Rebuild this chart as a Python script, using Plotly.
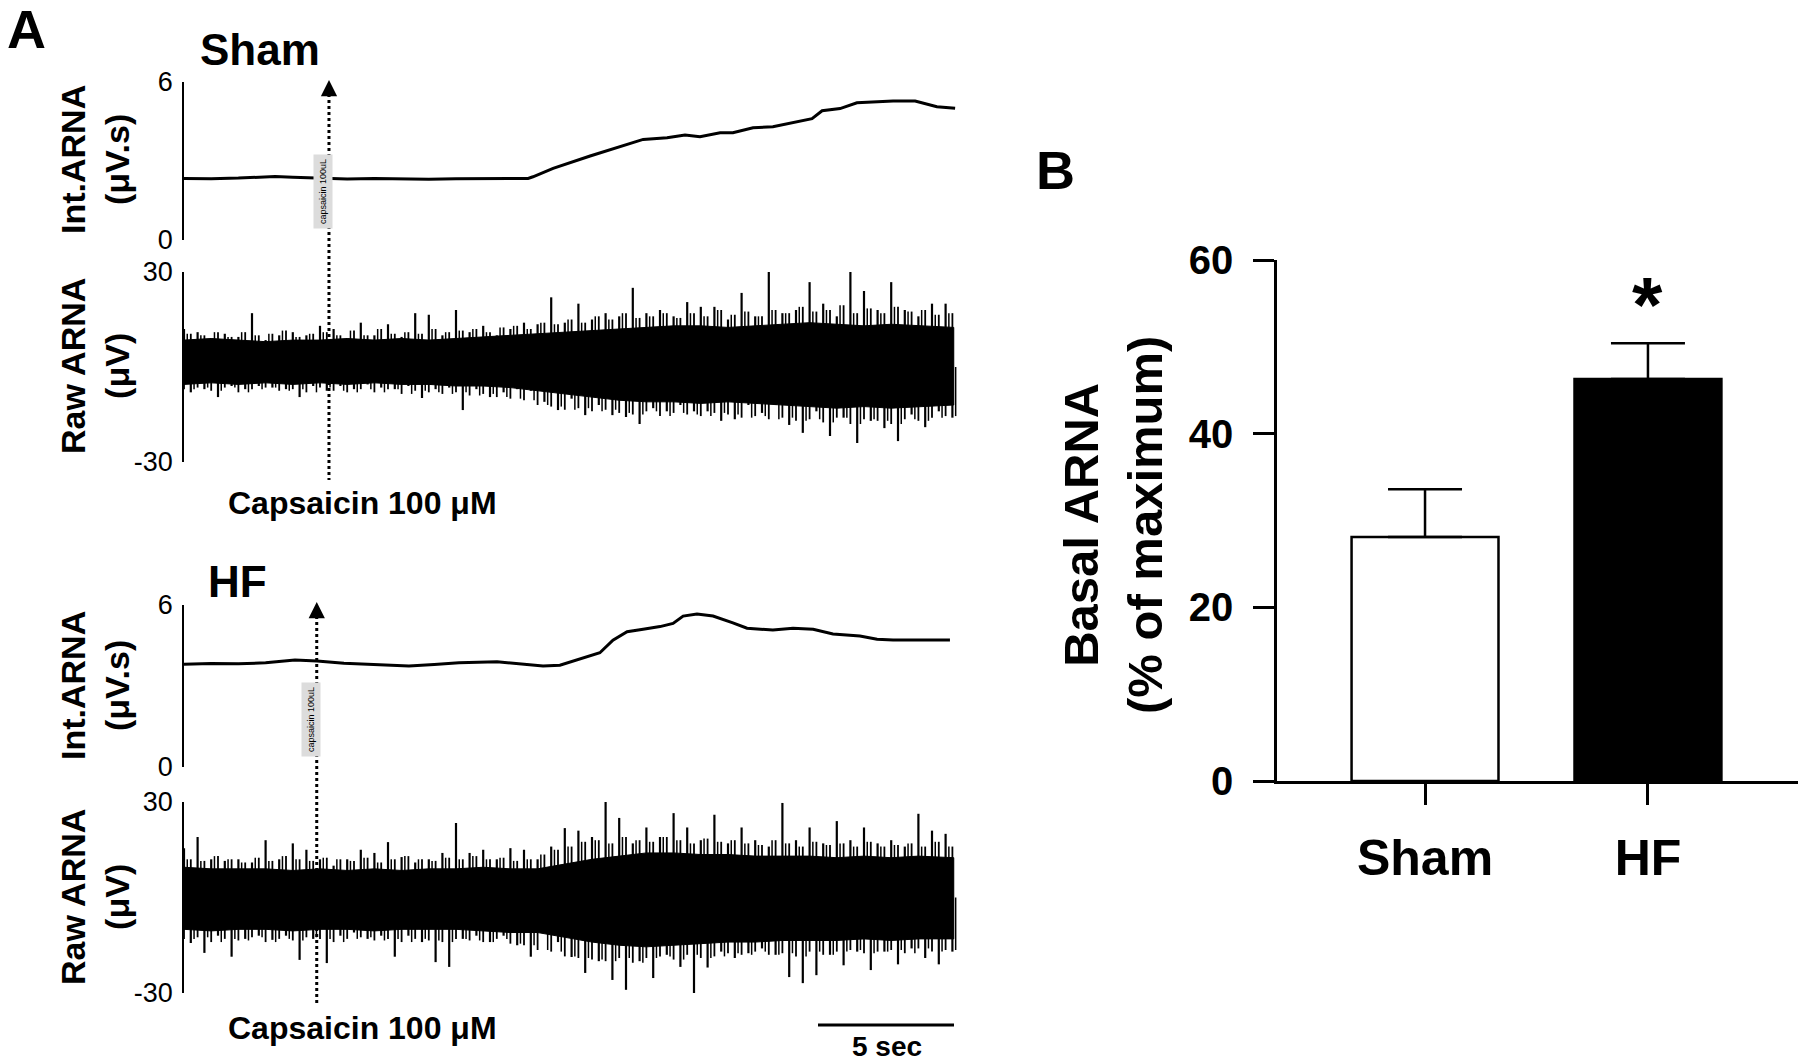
import plotly.graph_objects as go

W, H = 1804, 1061
FONT = "Liberation Sans, Arial, Helvetica, sans-serif"

# ---------------- Panel A : integrated ARNA (µV.s) ----------------
sham_int_t = [0, 1, 2, 3, 3.35, 4, 5, 5.33, 6, 7, 8, 9, 10, 11, 11.62, 12.65, 12.83, 13.57,
              14.93, 16.03, 16.88, 17.76, 18.42, 18.97, 19.71, 20.18, 20.92, 21.65, 22.39,
              23.09, 23.46, 24.12, 24.74, 25.4, 26.07, 26.88, 27.68, 28.35]
sham_int_v = [2.34, 2.33, 2.35, 2.38, 2.41, 2.38, 2.34, 2.35, 2.32, 2.34, 2.33, 2.31, 2.33, 2.34,
              2.33, 2.34, 2.40, 2.72, 3.19, 3.54, 3.82, 3.88, 3.99, 3.92, 4.07, 4.07, 4.26, 4.30,
              4.45, 4.61, 4.91, 4.99, 5.21, 5.25, 5.28, 5.28, 5.06, 5.00]

hf_int_t = [0, 1, 2, 3, 4.08, 4.89, 5.88, 7, 8.27, 9.2, 10.11, 11.51, 12.3, 13.2, 13.82, 14.56,
            15.29, 15.77, 16.29, 16.88, 17.5, 17.98, 18.35, 18.86, 19.45, 20.18, 20.7, 21.65,
            22.39, 23.13, 23.86, 24.85, 25.48, 26.07, 26.95, 28.16]
hf_int_v = [3.81, 3.83, 3.82, 3.86, 3.96, 3.93, 3.84, 3.80, 3.74, 3.80, 3.86, 3.90, 3.82, 3.74,
            3.77, 3.99, 4.23, 4.70, 5.01, 5.10, 5.20, 5.32, 5.59, 5.67, 5.59, 5.34, 5.14, 5.07,
            5.14, 5.10, 4.93, 4.85, 4.73, 4.70, 4.70, 4.70]

# ---------------- Panel A : raw ARNA (µV) ----------------
# dense core of the raw signal, read every second
raw_core_t = [0, 1, 2, 3, 4, 5, 6, 7, 8, 9, 10, 11, 12, 13, 14, 15, 16, 17, 18, 19, 20,
              21, 22, 23, 24, 25, 26, 27, 28.3]
sham_core_up = [8.5, 9, 8.5, 8, 8.5, 8.5, 9, 8.5, 9, 8.5, 9, 9.5, 10, 10.5, 11, 11.5, 12, 12.5,
                13, 13, 12.5, 13, 13.5, 14, 13.5, 13, 13.5, 13, 12.5]
sham_core_lo = [-5.5, -5, -5.5, -5, -5.5, -5, -5.5, -5, -5.5, -5.5, -6, -6, -6.5, -7.5, -8.5,
                -9.5, -10.5, -11, -11, -11.5, -11, -11.5, -12, -12.5, -13, -12.5, -13, -12.5, -12]
hf_core_up = [9.5, 9, 9, 9, 8.5, 9, 8.5, 9, 8.5, 9, 9, 9.5, 9, 9, 10.5, 12, 13, 14, 14, 13.5,
              13.5, 13, 13, 13, 12.5, 13, 12.5, 13, 12.5]
hf_core_lo = [-10, -10.5, -10, -10, -10.5, -10, -10, -10.5, -10, -10, -10, -10.5, -11, -11, -12.5,
              -14, -15, -15.5, -15, -14.5, -14, -14, -13.5, -13.5, -13.5, -13, -13.5, -13, -13]

# large spike peaks, read every half second
spike_t = [0, 0.5, 1, 1.5, 2, 2.5, 3, 3.5, 4, 4.5, 5, 5.5, 6, 6.5, 7, 7.5, 8, 8.5, 9, 9.5,
           10, 10.5, 11, 11.5, 12, 12.5, 13, 13.5, 14, 14.5, 15, 15.5, 16, 16.5, 17, 17.5,
           18, 18.5, 19, 19.5, 20, 20.5, 21, 21.5, 22, 22.5, 23, 23.5, 24, 24.5, 25, 25.5,
           26, 26.5, 27, 27.5, 28]
sham_spike_up = [12, 11, 9, 10.5, 9.5, 17, 8.5, 10, 11, 10,
                 13, 12, 9, 14, 10, 13.5, 9.5, 17, 16.5, 10,
                 18, 11, 13, 10, 12, 14, 13.5, 22, 14, 20,
                 15, 17, 16, 25, 17, 18, 16, 20.5, 19, 19,
                 15, 23.4, 16, 30, 17, 18, 26.8, 20, 16, 30,
                 24, 18, 26.8, 18, 16, 20, 20]
sham_spike_lo = [-8, -7, -9.5, -6, -7, -6, -6.5, -7, -9.5, -6,
                 -7.5, -6, -7, -5.5, -6.5, -7, -6, -9.8, -7, -6.5,
                 -13.6, -7, -9.5, -8, -7, -7.5, -11, -13.6, -10, -15.2,
                 -12, -15.2, -15.8, -18, -13, -14, -12, -14, -14, -17,
                 -16.5, -12, -14.5, -12, -18.3, -20.8, -14, -21.8, -16, -24,
                 -17, -19.3, -23.4, -15, -19, -14, -16]
hf_spike_up = [15.5, 19, 12, 11.5, 12, 11, 18, 12, 17, 15,
               12, 10, 12, 15, 14, 17.4, 12.7, 11, 12, 14,
               23.4, 14, 15, 12, 15.5, 15, 12, 16, 21.8, 21,
               19, 30, 25, 17, 22, 19, 26.5, 22, 18, 26,
               17, 22, 18, 16, 29.7, 18, 22, 17, 24, 18,
               22, 17, 18, 16, 26.3, 21, 20]
hf_spike_lo = [-14.3, -17.4, -12, -18.6, -13, -12, -13.3, -12, -19.6, -13,
               -20.6, -12, -11, -13, -12, -18.6, -12, -14, -20.3, -21.8,
               -13, -12, -14, -12, -15, -18.6, -10, -14, -18.7, -23.7,
               -20, -25.9, -29, -20, -25.3, -18, -21.8, -31, -22, -17,
               -19, -17.5, -16, -18, -25, -26.9, -24.4, -18, -21.3, -17,
               -22.8, -17, -21, -16, -19, -21, -17]

# smaller fringe spikes between the large ones (estimated, every half second)
sham_fringe_up = [10.5, 10, 11, 9.5, 11, 10, 10.5, 11.5, 9.5, 10.5,
                  11, 10, 11.5, 10, 12, 10.5, 11, 10.5, 12, 11,
                  11.5, 12, 11, 12.5, 13, 12, 14, 13.5, 15, 14,
                  16, 15, 17, 15.5, 16, 17, 15.5, 17, 16, 18,
                  16.5, 17.5, 16, 18, 17, 19, 17.5, 18, 19.5, 17,
                  18.5, 17, 19, 17.5, 18, 16.5, 17]
sham_fringe_lo = [-7, -6.5, -7.5, -6.5, -8, -7, -6.5, -7.5, -7, -8,
                  -6.5, -7.5, -8, -7, -8, -7, -8.5, -7.5, -8, -8.5,
                  -8, -9, -8.5, -9.5, -10, -10.5, -12, -12.5, -13.5, -13,
                  -14, -13.5, -14.5, -15, -14, -15.5, -14.5, -15, -15.5, -14.5,
                  -15, -16, -15.5, -16.5, -16, -17, -16.5, -17.5, -16, -18,
                  -16.5, -17, -18, -16.5, -17, -16, -15.5]
hf_fringe_up = [12, 11.5, 13, 12, 11, 12.5, 11.5, 13, 12, 11.5,
                12.5, 12, 11.5, 12.5, 11, 12, 13, 12, 11.5, 12.5,
                12, 13, 12, 12.5, 11.5, 12, 13.5, 15, 16, 17.5,
                18, 17, 19, 18, 17.5, 19, 18, 17, 18.5, 17.5,
                18, 17, 16.5, 18, 17, 16, 17.5, 16.5, 17, 16,
                17.5, 16, 16.5, 17, 16, 17.5, 16]
hf_fringe_lo = [-13, -12.5, -14, -13, -13.5, -12.5, -14, -13, -13.5, -12.5,
                -13, -14, -13, -12.5, -13.5, -13, -14, -13, -13.5, -14,
                -13, -13.5, -14, -13, -14.5, -15, -16.5, -17, -18.5, -19,
                -19.5, -20, -19, -20.5, -19, -18.5, -19.5, -18, -19, -18.5,
                -17.5, -18, -17, -18, -17.5, -18.5, -17, -18, -17, -16.5,
                -17.5, -17, -16.5, -17.5, -16, -17, -16.5]

capsaicin_t = {"Sham": 5.33, "HF": 4.88}

# ---------------- Panel B : bar chart ----------------
groups = ["Sham", "HF"]
basal_mean = [28.1, 46.3]
basal_sem = [5.5, 4.1]
bar_colors = ["white", "black"]


def px_x(p):
    return p / W


def px_y(p):
    return 1 - p / H


fig = go.Figure()

# ---- integrated traces ----
fig.add_trace(go.Scatter(x=sham_int_t, y=sham_int_v, mode="lines", xaxis="x2", yaxis="y2",
                         line=dict(color="black", width=3), showlegend=False))
fig.add_trace(go.Scatter(x=hf_int_t, y=hf_int_v, mode="lines", xaxis="x4", yaxis="y4",
                         line=dict(color="black", width=3), showlegend=False))


def spikes(ts, vals, offset):
    xs, ys = [], []
    for t, v in zip(ts, vals):
        xs += [t + offset, t + offset, None]
        ys += [0, v, None]
    return xs, ys


def raw_traces(core_up, core_lo, sp_up, sp_lo, fr_up, fr_lo, xa, ya):
    fig.add_trace(go.Scatter(x=raw_core_t + raw_core_t[::-1], y=core_up + core_lo[::-1],
                             mode="lines", fill="toself", fillcolor="black",
                             line=dict(color="black", width=1), xaxis=xa, yaxis=ya,
                             showlegend=False, hoverinfo="skip"))
    for vals, off, w in ((fr_up, 0.25, 1.8), (fr_lo, 0.0, 1.8), (fr_up, 0.12, 1.5),
                         (fr_lo, 0.37, 1.5), (sp_up, 0.0, 2.2), (sp_lo, 0.25, 2.2)):
        xs, ys = spikes(spike_t, vals, off)
        fig.add_trace(go.Scatter(x=xs, y=ys, mode="lines", line=dict(color="black", width=w),
                                 xaxis=xa, yaxis=ya, showlegend=False, hoverinfo="skip",
                                 connectgaps=False))


raw_traces(sham_core_up, sham_core_lo, sham_spike_up, sham_spike_lo,
           sham_fringe_up, sham_fringe_lo, "x3", "y3")
raw_traces(hf_core_up, hf_core_lo, hf_spike_up, hf_spike_lo,
           hf_fringe_up, hf_fringe_lo, "x5", "y5")

# ---- bar chart ----
fig.add_trace(go.Bar(x=[0, 1], y=basal_mean, width=0.659,
                     marker=dict(color=bar_colors, line=dict(color="black", width=2.5)),
                     error_y=dict(type="data", array=basal_sem, arrayminus=[0, 0],
                                  symmetric=False, color="black", thickness=2.5, width=37),
                     xaxis="x", yaxis="y", showlegend=False))

# ---------------- axes ----------------
T_RANGE = [0, (960 - 184) / 27.2]
trace_x = dict(domain=[px_x(184), px_x(960)], range=T_RANGE, visible=False)


def trace_y(top, bottom, rng, ticks):
    return dict(domain=[px_y(bottom), px_y(top)], range=rng, showgrid=False, zeroline=False,
                showline=True, linecolor="black", linewidth=1.5, ticks="",
                tickvals=ticks, ticktext=[str(v) for v in ticks],
                tickfont=dict(family=FONT, size=27, color="black"), ticklabelstandoff=4)


layout = dict(
    width=W, height=H, autosize=False,
    margin=dict(l=0, r=0, t=0, b=0, pad=0, autoexpand=False),
    paper_bgcolor="white", plot_bgcolor="rgba(0,0,0,0)",
    font=dict(family=FONT, color="black"),
    showlegend=False,
    xaxis=dict(domain=[px_x(1277), px_x(1798)], range=[-0.664, 1.673],
               tickvals=[0, 1], ticktext=groups, ticks="outside", ticklen=21, tickwidth=2.5,
               tickcolor="black", showline=True, linecolor="black", linewidth=2.5,
               showgrid=False, zeroline=False, ticklabelstandoff=10, automargin=False,
               tickfont=dict(family=FONT, size=50, weight="bold", color="black")),
    yaxis=dict(domain=[px_y(781), px_y(260)], range=[0, 60], tickvals=[0, 20, 40, 60],
               ticks="outside", ticklen=21, tickwidth=2.5, tickcolor="black",
               showline=True, linecolor="black", linewidth=2.5, showgrid=False,
               zeroline=False, ticklabelstandoff=12, automargin=False,
               tickfont=dict(family=FONT, size=40, weight="bold", color="black")),
    xaxis2=dict(trace_x, anchor="y2"),
    yaxis2=dict(trace_y(82, 240, [0, 6], [0, 6]), anchor="x2"),
    xaxis3=dict(trace_x, anchor="y3"),
    yaxis3=dict(trace_y(272, 462, [-30, 30], [-30, 30]), anchor="x3"),
    xaxis4=dict(trace_x, anchor="y4"),
    yaxis4=dict(trace_y(605, 767, [0, 6], [0, 6]), anchor="x4"),
    xaxis5=dict(trace_x, anchor="y5"),
    yaxis5=dict(trace_y(802, 993, [-30, 30], [-30, 30]), anchor="x5"),
)
fig.update_layout(layout)


def note(text, x, y, size, bold=True, angle=0, **kw):
    fig.add_annotation(text=text, x=px_x(x), y=px_y(y), xref="paper", yref="paper",
                       showarrow=False, textangle=angle, xanchor="center", yanchor="middle",
                       font=dict(family=FONT, size=size, color="black",
                                 weight="bold" if bold else "normal"), **kw)


note("A", 26, 29, 54)
note("B", 1055, 170, 54)
note("Sham", 260, 50, 44)
note("HF", 237, 581, 44)
note("Int.ARNA<br>(μV.s)", 95, 160, 34, angle=-90)
note("Raw ARNA<br>(μV)", 95, 366, 34, angle=-90)
note("Int.ARNA<br>(μV.s)", 95, 686, 34, angle=-90)
note("Raw ARNA<br>(μV)", 95, 897, 34, angle=-90)
note("Capsaicin 100 μM", 362, 503, 32)
note("Capsaicin 100 μM", 362, 1028, 32)
note("capsaicin 100uL", 323, 192, 9, bold=False, angle=-90, bgcolor="#dcdcdc", borderpad=4)
note("capsaicin 100uL", 311, 720, 9, bold=False, angle=-90, bgcolor="#dcdcdc", borderpad=4)
note("5 sec", 887, 1046, 28)
note("Basal ARNA<br>(% of maximum)", 1113, 525, 49, angle=-90)
note("*", 1647, 305, 78)

# capsaicin arrows: dotted shaft + arrow head
for grp, xa, top, bottom in (("Sham", "x2", 80, 480), ("HF", "x4", 602, 1003)):
    t = capsaicin_t[grp]
    fig.add_shape(type="line", xref=xa, yref="paper", x0=t, x1=t,
                  y0=px_y(top + 14), y1=px_y(bottom),
                  line=dict(color="black", width=3, dash="dot"))
    fig.add_annotation(x=t, y=px_y(top), xref=xa, yref="paper", text="", showarrow=True,
                       ax=0, ay=18, arrowhead=2, arrowsize=1.3, arrowwidth=2.5,
                       arrowcolor="black")

# 5 s scale bar
fig.add_shape(type="line", xref="x5", yref="paper", x0=(818 - 184) / 27.2,
              x1=(818 - 184) / 27.2 + 5, y0=px_y(1025), y1=px_y(1025),
              line=dict(color="black", width=3))

fig.write_html("out.html", config={"displayModeBar": False},
               post_script="document.body.style.margin='0';"
                           "document.body.style.overflow='hidden';")
